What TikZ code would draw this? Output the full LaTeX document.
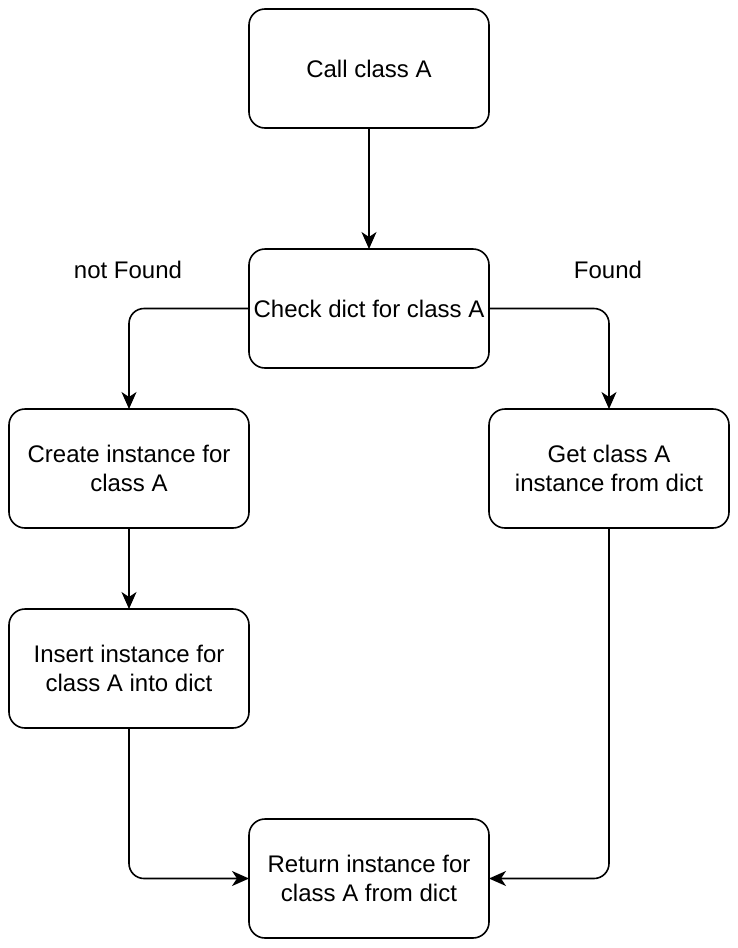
\documentclass[tikz,border=0pt]{standalone}
\usepackage{fontspec}
\setmainfont{Liberation Sans}
\usepackage{tikz}
\usetikzlibrary{arrows.meta,positioning}
\tikzset{
  box/.style={draw=black,line width=1.6pt,rounded corners=16pt,fill=white,
    outer sep=0pt,inner sep=2pt,align=center,
    minimum width=240pt,minimum height=119pt,
    font=\fontsize{24}{29}\selectfont},
  flow/.style={-{Stealth[length=17pt,width=15pt,inset=5pt]},line width=1.6pt,
    rounded corners=15pt},
  elabel/.style={inner sep=2pt,font=\fontsize{24}{29}\selectfont},
}
\begin{document}
\begin{tikzpicture}[x=1pt,y=-1pt]
  \useasboundingbox (0,0) rectangle (738,948);
  \node[box](call) at (369,68.5){Call class A};
  \node[box,below=121pt of call](check){Check dict for class A};
  \node[box,below left=41pt and 0pt of check](create){Create instance for\\class A};
  \node[box,below right=41pt and 0pt of check](get){Get class A\\instance from dict};
  \node[box,below=81pt of create](insert){Insert instance for\\class A into dict};
  \node[box,below right=91pt and 0pt of insert](ret){Return instance for\\class A from dict};
  % branch labels
  \node[elabel](nf) at (128,270){not Found};
  \node[elabel](fd) at (608,270){Found};
  \draw[flow](call)--(check);
  \draw[flow](check.west)-|(create.north);
  \draw[flow](check.east)-|(get.north);
  \draw[flow](create)--(insert);
  \draw[flow](insert.south)|-(ret.west);
  \draw[flow](get.south)|-(ret.east);
\end{tikzpicture}
\end{document}
